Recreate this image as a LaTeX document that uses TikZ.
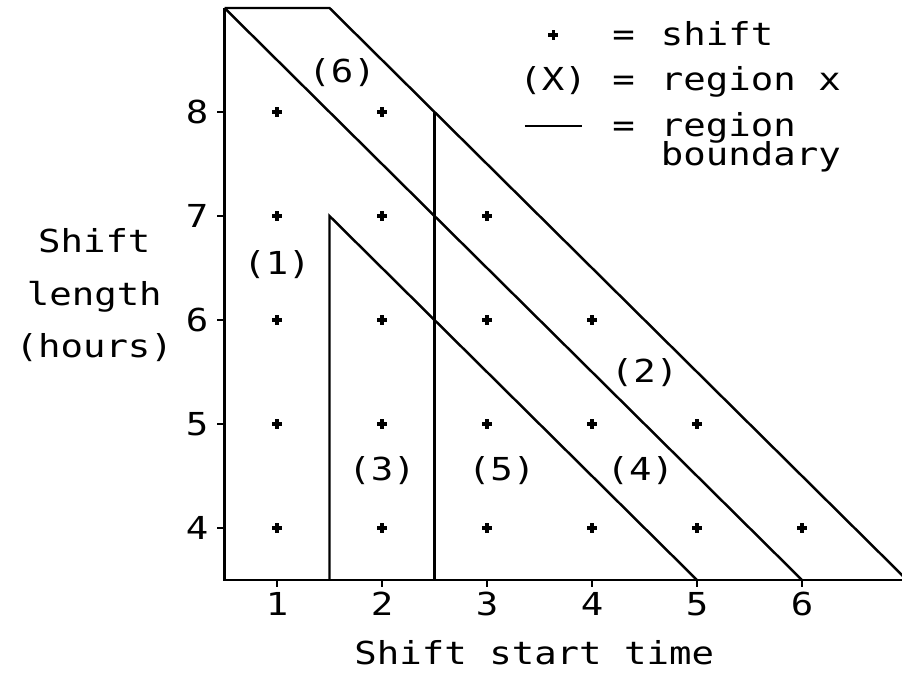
\documentclass[tikz,border=0pt]{standalone}
\usepackage{fontspec}
\usepackage{tikz}
\newfontfamily\plotfont[FakeStretch=1.18]{DejaVu Sans Mono}

\tikzset{
	boundary/.style={line width=0.7pt},
	shiftmark/.style={line width=0.9pt},
	plottext/.style={font=\plotfont\fontsize{9}{14.8}\selectfont, inner sep=0pt},
	legendtext/.style={plottext, anchor=base west},
	legendsym/.style={plottext, anchor=base}
}

\begin{document}
\begin{tikzpicture}[x=1.05cm,y=1.04cm]
		\useasboundingbox (-1.638,2.606) rectangle (6.952,9.077);
		% axes and region boundaries
		\draw[boundary] (0.5,9) -- (0.5,3.5) -- (7,3.5);
		\draw[boundary] (0.5,9) -- (1.5,9) -- (7,3.5);
		\draw[boundary] (0.5,9) -- (6,3.5);
		\draw[boundary] (1.5,3.5) -- (1.5,7) -- (5,3.5);
		\draw[boundary] (2.5,3.5) -- (2.5,8);
		% ticks
		\foreach \s in {1,...,6} {
			\draw[boundary] (\s,3.5) -- (\s,3.43);
			\node[plottext] (xt\s) at (\s,3.27) {\s};
		}
		\foreach \l in {4,...,8} {
			\draw[boundary] (0.5,\l) -- (0.43,\l);
			\node[plottext] (yt\l) at (0.24,\l) {\l};
		}
		\node[plottext] (xlabel) at (3.45,2.8) {Shift start time};
		\node[plottext, align=center] (ylabel) at (-0.74,6.24) {Shift\\length\\(hours)};
		% shifts
		\foreach \l in {4,...,8} {
			\pgfmathtruncatemacro{\smax}{10-\l}
			\foreach \s in {1,...,\smax}
				\draw[shiftmark] (\s,\l) +(-0.045,0) -- +(0.045,0) +(0,-0.045) -- +(0,0.045);
		}
		% regions
		\node[plottext] (reg1) at (1.0,6.53) {(1)};
		\node[plottext] (reg2) at (4.5,5.49) {(2)};
		\node[plottext] (reg3) at (2.0,4.55) {(3)};
		\node[plottext] (reg4) at (4.46,4.55) {(4)};
		\node[plottext] (reg5) at (3.14,4.55) {(5)};
		\node[plottext] (reg6) at (1.62,8.38) {(6)};
		% legend
		\draw[shiftmark] (3.63,8.74) +(-0.045,0) -- +(0.045,0) +(0,-0.045) -- +(0,0.045);
		\node[legendsym] (eq1) at (4.30,8.644) {=};
		\node[legendtext] (legshift) at (4.65,8.644) {shift};
		\node[legendsym] (legx) at (3.63,8.21) {(X)};
		\node[legendsym] (eq2) at (4.30,8.21) {=};
		\node[legendtext] (legregion) at (4.65,8.21) {region x};
		\draw[boundary] (3.36,7.865) -- (3.90,7.865);
		\node[legendsym] (eq3) at (4.30,7.76) {=};
		\node[legendtext] (legbound) at (4.65,7.76) {region};
		\node[legendtext] (legbound2) at (4.65,7.49) {boundary};
	\end{tikzpicture}
\end{document}
